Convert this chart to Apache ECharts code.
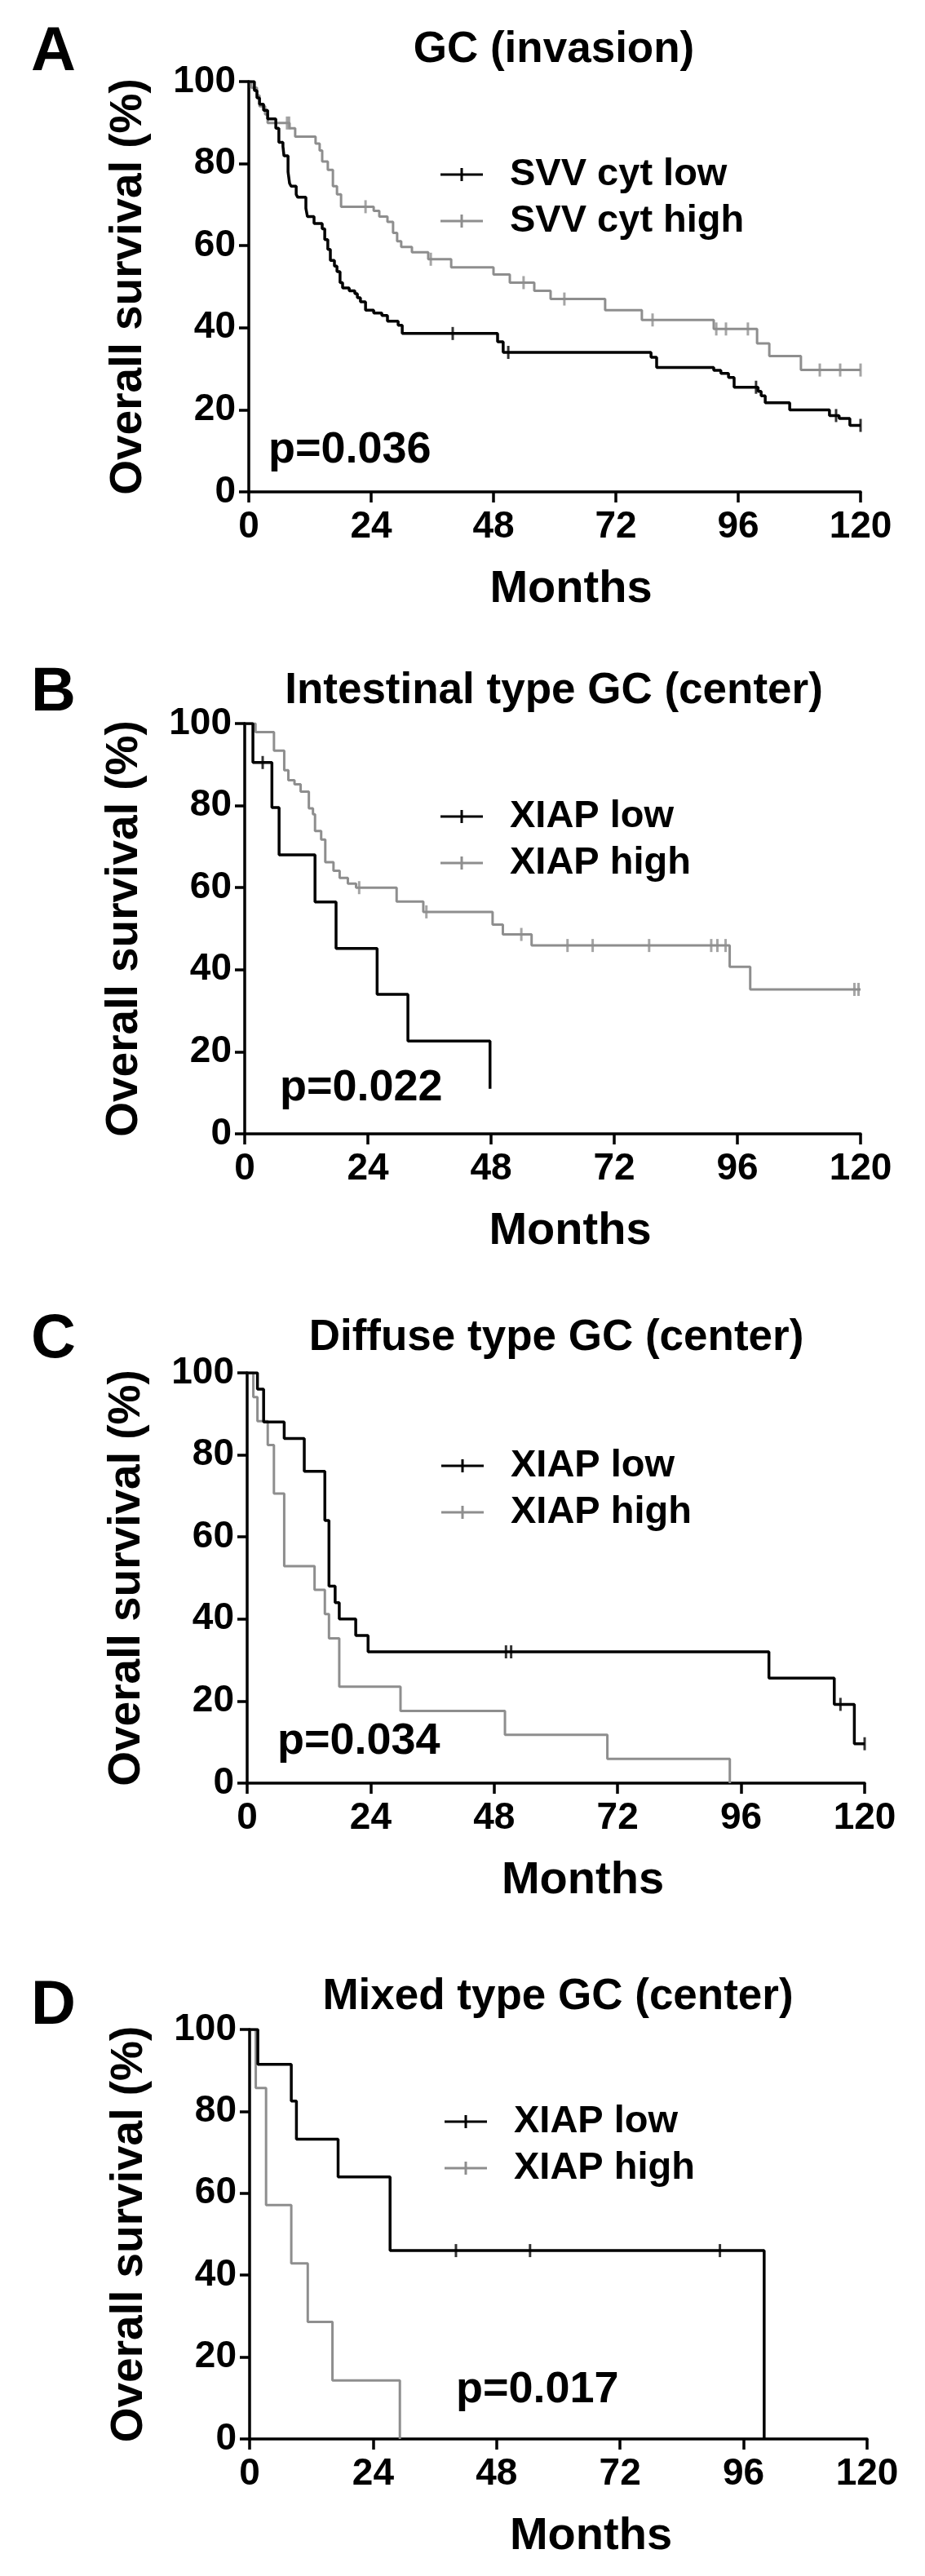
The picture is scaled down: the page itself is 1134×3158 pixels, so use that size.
<!DOCTYPE html>
<html><head><meta charset="utf-8">
<script src="https://cdn.jsdelivr.net/npm/echarts@6.0.0/dist/echarts.min.js"></script>
<style>html,body{margin:0;padding:0;background:#fff}#c{width:1134px;height:3158px}</style>
</head><body><div id="c"></div>
<script>
// ---------- DATA ----------
const panelLetters = ['A', 'B', 'C', 'D'];
const panelTitles = ['GC (invasion)', 'Intestinal type GC (center)', 'Diffuse type GC (center)', 'Mixed type GC (center)'];
const pValues = ['p=0.036', 'p=0.022', 'p=0.034', 'p=0.017'];
const lowNames = ['SVV cyt low', 'XIAP low', 'XIAP low', 'XIAP low'];
const highNames = ['SVV cyt high', 'XIAP high', 'XIAP high', 'XIAP high'];
const xTicks = [0, 24, 48, 72, 96, 120];
const yTicks = [0, 20, 40, 60, 80, 100];
const xAxisName = 'Months';
const yAxisName = 'Overall survival (%)';

// Panel A
const aLowT = [0, 1.1, 1.6, 2.1, 2.9, 3.7, 5.3, 5.9, 6.7, 6.9, 7.7, 8.0, 8.3, 9.3, 9.6, 11.2, 11.5, 12.8, 14.4, 14.9, 15.5, 16.0, 16.8, 17.3, 17.9, 18.4, 19.7, 20.8, 21.3, 21.9, 22.9, 24.5, 26.1, 27.2, 29.3, 30.1, 48.8, 49.9, 78.9, 80.0, 91.2, 92.6, 94.1, 95.2, 99.9, 100.5, 101.3, 106.1, 113.9, 115.8, 117.9, 120];
const aLowS = [100, 97.8, 96.0, 94.5, 93.0, 90.9, 88.6, 85.2, 84.2, 81.9, 78.0, 75.2, 74.5, 72.5, 71.8, 69.1, 67.1, 65.4, 64.1, 61.5, 59.1, 56.4, 55.0, 53.7, 51.0, 49.7, 49.0, 48.3, 47.3, 46.3, 44.3, 43.6, 43.0, 41.6, 40.6, 38.6, 36.6, 34.0, 32.8, 30.3, 29.6, 28.9, 27.9, 25.5, 24.5, 23.4, 21.7, 20.0, 18.6, 17.9, 16.2, 16.2];
const aLowCens = [40.0, 50.9, 99.5, 115.2, 120];
const aHighT = [0, 0.5, 1.6, 2.1, 3.2, 3.7, 8.0, 9.1, 13.1, 13.9, 14.4, 15.5, 16.5, 17.3, 18.1, 24.5, 25.6, 27.2, 28.3, 29.1, 29.9, 32.0, 35.2, 39.7, 48.0, 51.2, 56.0, 59.2, 69.9, 77.1, 91.2, 99.7, 102.1, 108.3, 120];
const aHighS = [100, 98.5, 96.6, 94.0, 92.0, 89.9, 88.6, 86.6, 84.9, 83.2, 80.5, 78.5, 74.5, 72.5, 69.5, 68.5, 67.1, 65.8, 63.1, 61.1, 59.7, 58.4, 56.7, 54.7, 53.0, 51.0, 49.0, 47.0, 44.3, 41.9, 39.7, 36.2, 33.1, 29.7, 29.7];
const aHighCens = [7.5, 7.9, 22.9, 35.7, 53.9, 61.9, 79.2, 91.7, 93.6, 97.9, 112, 116, 120];

// Panel B
const bLowT = [0, 1.6, 5.3, 6.7, 13.7, 17.8, 25.8, 31.8, 47.8];
const bLowS = [100, 90.5, 79.5, 68.0, 56.5, 45.2, 34.0, 22.6, 11.0];
const bLowCens = [3.5];
const bHighT = [0, 2.1, 5.7, 7.7, 8.5, 9.7, 10.9, 12.5, 13.3, 13.7, 14.9, 15.7, 17.3, 18.5, 20.1, 21.7, 29.6, 34.8, 48.3, 50.3, 55.9, 94.5, 98.5, 120];
const bHighS = [100, 97.9, 93.4, 88.6, 86.2, 85.2, 83.4, 79.3, 77.9, 73.8, 71.7, 66.2, 64.1, 62.4, 61.0, 60.0, 56.6, 54.1, 51.0, 48.6, 45.9, 40.7, 35.2, 35.2];
const bHighCens = [22.3, 35.4, 53.9, 62.9, 67.8, 78.8, 90.9, 92.1, 93.7, 118.8, 119.6];

// Panel C
const cLowT = [0, 2.0, 3.2, 7.2, 11.1, 15.1, 15.9, 17.1, 17.9, 21.1, 23.5, 101.4, 114.1, 118.0, 120];
const cLowS = [100, 96, 88, 84, 76, 64, 48, 44, 40, 36, 32, 25.6, 19.2, 9.6, 9.6];
const cLowCens = [50.3, 51.3, 115.3, 120];
const cHighT = [0, 1.2, 2.0, 4.0, 5.2, 7.2, 13.1, 15.1, 15.9, 17.9, 29.8, 50.1, 70.0, 93.8];
const cHighS = [100, 94.1, 88.2, 82.4, 70.6, 52.9, 47.1, 41.2, 35.3, 23.5, 17.6, 11.8, 5.9, 0];
const cHighCens = [];

// Panel D
const dLowT = [0, 1.6, 8.1, 9.1, 17.2, 27.3, 100];
const dLowS = [100, 91.5, 82.5, 73.2, 64.0, 46.0, 0];
const dLowCens = [40.1, 54.5, 91.4];
const dHighT = [0, 1.2, 3.2, 8.1, 11.3, 16.1, 29.2];
const dHighS = [100, 85.7, 57.1, 42.9, 28.6, 14.3, 0];
const dHighCens = [];

// ---------- LAYOUT / STYLE ----------
const FONT = '"Liberation Sans", Arial, Helvetica, sans-serif';
const BLACK = '#000000';
const GRAY = '#8e8e8e';
const grids = [
  { left: 305, top: 100, width: 750, height: 503 },
  { left: 300, top: 887, width: 755, height: 503 },
  { left: 303, top: 1683, width: 757, height: 503 },
  { left: 306, top: 2488, width: 757, height: 502 }
];
const titlePos = [[679, 61], [679, 847], [682, 1640], [684, 2448]];
const letterY = [65, 850, 1643, 2460];
const pPos = [[329, 552], [343, 1334], [340, 2135], [559, 2930]];
const legendPos = [[540, 190], [540, 977], [541, 1773], [545, 2577]];
const monthsShift = [40, 43, 66, 80];

const panels = [
  { low: [aLowT, aLowS, aLowCens], high: [aHighT, aHighS, aHighCens] },
  { low: [bLowT, bLowS, bLowCens], high: [bHighT, bHighS, bHighCens] },
  { low: [cLowT, cLowS, cLowCens], high: [cHighT, cHighS, cHighCens] },
  { low: [dLowT, dLowS, dLowCens], high: [dHighT, dHighS, dHighCens] }
];

function km(T, S) { return T.map((t, i) => [t, S[i]]); }
function censor(T, S, C) {
  return C.map(c => { let v = S[0]; for (let i = 0; i < T.length; i++) { if (T[i] <= c) v = S[i]; } return [c, v]; });
}

const xAxes = [], yAxes = [], series = [], legends = [], graphics = [];
const xStep = xTicks[1] - xTicks[0];
const yStep = yTicks[1] - yTicks[0];
panels.forEach((p, i) => {
  xAxes.push({
    type: 'value', gridIndex: i, min: xTicks[0], max: xTicks[xTicks.length - 1], interval: xStep,
    axisLine: { show: true, onZero: false, lineStyle: { color: BLACK, width: 3.5 } },
    axisTick: { show: true, length: 13, lineStyle: { color: BLACK, width: 3.5 } },
    axisLabel: { color: BLACK, fontSize: 46, fontWeight: 'bold', fontFamily: FONT, margin: 20 },
    splitLine: { show: false },
    name: xAxisName, nameLocation: 'middle', nameGap: 92,
    nameTextStyle: { color: BLACK, fontSize: 56, fontWeight: 'bold', fontFamily: FONT, padding: [0, 0, 0, monthsShift[i]] }
  });
  yAxes.push({
    type: 'value', gridIndex: i, min: yTicks[0], max: yTicks[yTicks.length - 1], interval: yStep,
    axisLine: { show: true, onZero: false, lineStyle: { color: BLACK, width: 3.5 } },
    axisTick: { show: true, length: 12, lineStyle: { color: BLACK, width: 3.5 } },
    axisLabel: { color: BLACK, fontSize: 46, fontWeight: 'bold', fontFamily: FONT, margin: 16 },
    splitLine: { show: false },
    name: yAxisName, nameLocation: 'middle', nameGap: 120,
    nameTextStyle: { color: BLACK, fontSize: 55, fontWeight: 'bold', fontFamily: FONT }
  });
  const groups = [
    { name: highNames[i], d: p.high, color: GRAY, z: 3, w: 3 },
    { name: lowNames[i], d: p.low, color: BLACK, z: 4, w: 3.5 }
  ];
  groups.forEach(g => {
    series.push({
      type: 'line', name: g.name, xAxisIndex: i, yAxisIndex: i, step: 'end',
      showSymbol: false, symbol: 'none', color: g.color, z: g.z,
      lineStyle: { color: g.color, width: g.w }, itemStyle: { color: g.color },
      data: km(g.d[0], g.d[1]), animation: false
    });
    if (g.d[2].length) {
      series.push({
        type: 'scatter', name: g.name + ' censored ' + i, xAxisIndex: i, yAxisIndex: i,
        symbol: 'rect', symbolSize: [3, 16], itemStyle: { color: g.color }, z: g.z + 2,
        data: censor(g.d[0], g.d[1], g.d[2]), silent: true, animation: false
      });
    }
  });
  legends.push({
    orient: 'vertical', left: legendPos[i][0], top: legendPos[i][1], padding: 0, itemGap: 9,
    itemWidth: 52, itemHeight: 16, selectedMode: false,
    icon: 'path://M0,6.5h52v3h-52z M24.5,0h3v16h-3z',
    textStyle: { color: BLACK, fontSize: 47, fontWeight: 'bold', fontFamily: FONT, lineHeight: 48, padding: [0, 0, 0, 28] },
    data: [lowNames[i], highNames[i]]
  });
  graphics.push({
    type: 'text', x: titlePos[i][0], y: titlePos[i][1], silent: true,
    style: { text: panelTitles[i], fill: BLACK, fontSize: 53, fontWeight: 'bold', fontFamily: FONT,
      textAlign: 'center', align: 'center', textVerticalAlign: 'middle', verticalAlign: 'middle' }
  });
  graphics.push({
    type: 'text', x: 38, y: letterY[i], silent: true,
    style: { text: panelLetters[i], fill: BLACK, fontSize: 76, fontWeight: 'bold', fontFamily: FONT,
      textAlign: 'left', align: 'left', textVerticalAlign: 'middle', verticalAlign: 'middle' }
  });
  graphics.push({
    type: 'text', x: pPos[i][0], y: pPos[i][1], silent: true,
    style: { text: pValues[i], fill: BLACK, fontSize: 54, fontWeight: 'bold', fontFamily: FONT,
      textAlign: 'left', align: 'left', textVerticalAlign: 'middle', verticalAlign: 'middle' }
  });
});

const chart = echarts.init(document.getElementById('c'), null, { renderer: 'canvas' });
chart.setOption({
  animation: false,
  backgroundColor: '#ffffff',
  grid: grids.map(g => Object.assign({ containLabel: false }, g)),
  xAxis: xAxes,
  yAxis: yAxes,
  legend: legends,
  graphic: graphics,
  series: series
});
</script></body></html>
